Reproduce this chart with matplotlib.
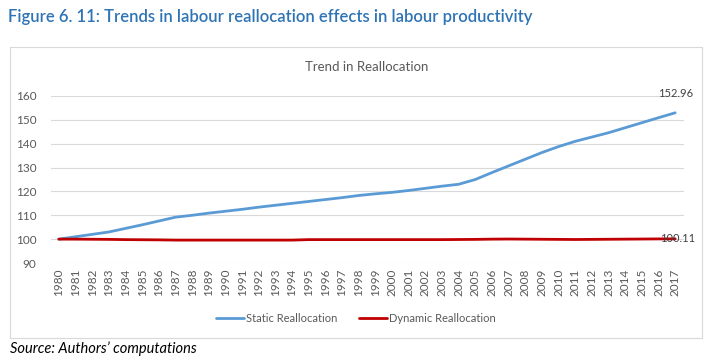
import matplotlib
matplotlib.use("Agg")
import matplotlib.pyplot as plt
from matplotlib.patches import Rectangle

years = [str(y) for y in range(1980, 2018)]
static_vals = [100.0, 101.0, 102.0, 103.0, 104.5, 106.0, 107.6, 109.2, 110.0, 110.9,
               111.7, 112.5, 113.4, 114.2, 115.0, 115.8, 116.6, 117.4, 118.3, 119.0,
               119.6, 120.4, 121.3, 122.2, 123.0, 125.0, 127.9, 130.7, 133.5, 136.3,
               138.8, 141.0, 142.8, 144.6, 146.7, 148.8, 150.9, 152.96]
dynamic_vals = [100.0, 100.0, 99.95, 99.9, 99.8, 99.75, 99.7, 99.6, 99.6, 99.6,
                99.6, 99.6, 99.6, 99.6, 99.6, 99.8, 99.8, 99.8, 99.8, 99.8,
                99.8, 99.8, 99.8, 99.8, 99.85, 99.9, 100.0, 100.05, 100.0, 99.95,
                99.9, 99.85, 99.9, 99.95, 100.0, 100.05, 100.1, 100.11]
series_names = ["Static Reallocation", "Dynamic Reallocation"]
yticks = [90, 100, 110, 120, 130, 140, 150, 160]

plt.rcParams['font.family'] = ['Lato', 'DejaVu Sans']
W, H = 712, 364
fig = plt.figure(figsize=(W / 100, H / 100), dpi=100)

# Figure title
fig.text(8 / W, 1 - 17 / H, "Figure 6. 11: Trends in labour reallocation effects in labour productivity",
         color="#2E74B5", fontsize=12, fontweight="semibold", va="center", ha="left")

# chart box
fig.patches.append(Rectangle((10 / W, 1 - 338 / H), (702 - 10) / W, (338 - 47) / H,
                             transform=fig.transFigure, fill=False, edgecolor="#D9D9D9", lw=0.8))

ax = fig.add_axes([50.5 / W, 1 - 263 / H, (683.5 - 50.5) / W, (263 - 96) / H])
x = list(range(len(years)))
ax.plot(x, static_vals, color="#5B9BD5", lw=2.0, label=series_names[0], solid_capstyle="round")
ax.plot(x, dynamic_vals, color="#C00000", lw=2.0, label=series_names[1], solid_capstyle="round")
ax.set_xlim(-0.5, len(years) - 0.5)
ax.set_ylim(90, 160)
ax.set_yticks(yticks)
ax.set_xticks(x)
ax.set_xticklabels(years, rotation=90, fontsize=8.5, color="#595959")
ax.tick_params(axis="y", labelsize=8.5, colors="#595959", length=0, pad=10)
ax.tick_params(axis="x", length=0, pad=4)
ax.grid(axis="y", color="#D9D9D9", lw=0.8)
ax.set_axisbelow(True)
for s in ax.spines.values():
    s.set_visible(False)

ax.set_title("Trend in Reallocation", fontsize=9.5, color="#595959", pad=18)

ax.annotate(f"{static_vals[-1]:.2f}", (x[-1], static_vals[-1]), xytext=(0, 10),
            textcoords="offset points", ha="center", va="bottom", fontsize=8, color="#404040")
ax.annotate(f"{dynamic_vals[-1]:.2f}", (x[-1], dynamic_vals[-1]), xytext=(-11, 0),
            textcoords="offset points", ha="left", va="center", fontsize=8, color="#404040")

leg = fig.legend(loc="center", bbox_to_anchor=(0.5, 1 - 318 / H), ncol=2, frameon=False,
                 fontsize=8, handlelength=2.5, columnspacing=2.0, handletextpad=0.2)
for t in leg.get_texts():
    t.set_color("#595959")

fig.text(10 / W, 1 - 349 / H, "Source: Authors\u2019 computations", fontsize=10.5, style="italic",
         color="#000000", va="center", ha="left")

fig.savefig("out.png", dpi=100)
